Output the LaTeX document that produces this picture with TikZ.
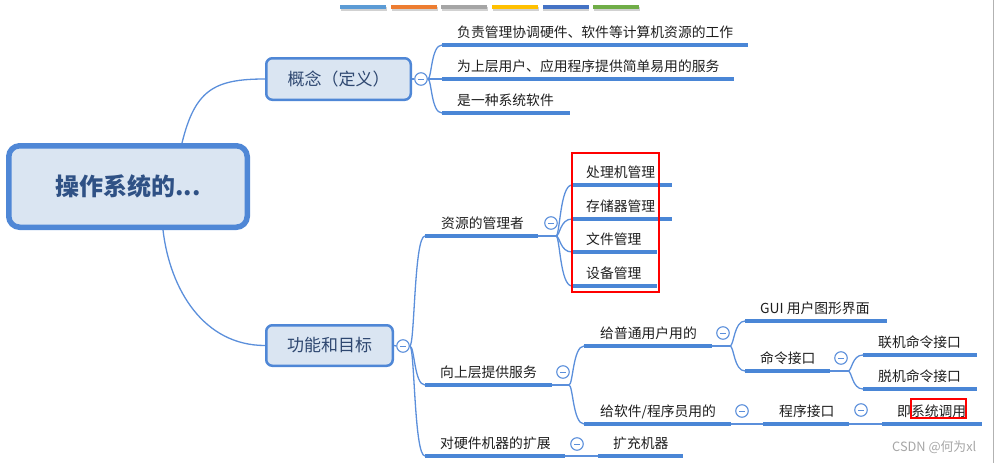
\documentclass[tikz,border=0pt]{standalone}
\usepackage{fontspec}
\setmainfont{Noto Sans CJK SC}
\usetikzlibrary{backgrounds}
\definecolor{lineblue}{HTML}{5B8FDB}
\definecolor{ulblue}{HTML}{4A86D6}
\definecolor{topicfill}{HTML}{DAE5F2}
\definecolor{topicdraw}{HTML}{4F87D6}
\definecolor{topictext}{HTML}{2E4770}
\definecolor{roottext}{HTML}{2F5185}
\definecolor{leaftext}{HTML}{1E1E1E}
\definecolor{wm}{HTML}{A6A6A6}
\definecolor{barA}{HTML}{5B9BD5}
\definecolor{barB}{HTML}{ED7D31}
\definecolor{barC}{HTML}{A5A5A5}
\definecolor{barD}{HTML}{FFC000}
\definecolor{barE}{HTML}{4472C4}
\definecolor{barF}{HTML}{70AD47}
\tikzset{
  conn/.style={draw=lineblue, line width=1.3pt},
  uline/.style={draw=ulblue, line width=3.5pt},
  leaf/.style={anchor=west, inner sep=0pt, text=leaftext, font=\fontsize{13.8}{16}\selectfont, text height=0.88em, text depth=0.12em},
  topic/.style={draw=topicdraw, fill=topicfill, line width=2.5pt, rounded corners=6pt, text=topictext, font=\fontsize{17}{20}\selectfont, inner sep=0pt},
  roottopic/.style={topic, line width=5.5pt, rounded corners=11pt, text=roottext, font=\fontsize{24}{28}\selectfont\bfseries},
  fold/.style={circle, draw=lineblue, fill=white, line width=1.1pt, minimum size=12.5pt, inner sep=0pt,
    path picture={\draw[lineblue, line width=1pt] ([xshift=-2.8pt]path picture bounding box.center) -- ([xshift=2.8pt]path picture bounding box.center);}},
  redbox/.style={draw=red, line width=1.8pt},
  colorbar/.style={inner sep=0pt, minimum width=46pt, minimum height=4pt, anchor=north west},
  barshadow/.style={fill=black!18},
}
\newcommand\leafitem[6]{%
  \coordinate (#1L) at (#2,#4);
  \coordinate (#1R) at (#3,#4);
  \draw[uline] (#1L) -- (#1R);
  \node[leaf] (#1) at (#5,#4-11.5) {#6};}
\begin{document}
\begin{tikzpicture}[x=1pt, y=-1pt]
\useasboundingbox (0,0) rectangle (994,463);
% color bars
\foreach \c [count=\i from 0] in {barA,barB,barC,barD,barE,barF} {
  \fill[barshadow] (340+\i*50.6+1,5+1.5) rectangle ++(46,4);
  \node[colorbar, fill=\c] (bar\i) at (340+\i*50.6,5) {};
}
% right edge
\draw[black!30, line width=1pt] (993.5,0) -- (993.5,463);
% topics
\node[roottopic, minimum width=238.5pt, minimum height=81.5pt] (root) at (128,186.5) {\raisebox{-1.5pt}{操作系统的...}};
\node[topic, minimum width=144.5pt, minimum height=41.5pt] (c) at (338.5,79) {概念（定义）};
\node[topic, minimum width=126.5pt, minimum height=40.5pt] (f) at (329.5,345.5) {功能和目标};
% folds
\node[fold] (cf) at (421,79) {};
\node[fold] (ff) at (403,346) {};
\node[fold] (f1f) at (551,223) {};
\node[fold] (f2f) at (563,372) {};
\node[fold] (f3f) at (577,444) {};
\node[fold] (u1f) at (723,333) {};
\node[fold] (u2f) at (742,411) {};
\node[fold] (g2f) at (841,358) {};
\node[fold] (p1f) at (861,410) {};
% leaves: concept
\leafitem{c1}{442}{748}{45}{457}{负责管理协调硬件、软件等计算机资源的工作}
\leafitem{c2}{442}{734}{79}{457}{为上层用户、应用程序提供简单易用的服务}
\leafitem{c3}{442}{570}{113}{457}{是一种系统软件}
% function
\leafitem{f1}{425}{538}{236}{441}{资源的管理者}
\leafitem{f2}{425}{552}{385}{440}{向上层提供服务}
\leafitem{f3}{425}{565}{456}{440}{对硬件机器的扩展}
\leafitem{r1}{572}{672}{185}{586}{处理机管理}
\leafitem{r2}{572}{672}{219}{586}{存储器管理}
\leafitem{r3}{572}{657}{252}{586}{文件管理}
\leafitem{r4}{572}{657}{286}{586}{设备管理}
\leafitem{u1}{584}{712}{346}{600}{给普通用户用的}
\leafitem{u2}{584}{731}{424}{600}{给软件/程序员用的}
\leafitem{g1}{745}{887}{321}{760}{GUI 用户图形界面}
\leafitem{g2}{745}{830}{371}{760}{命令接口}
\leafitem{m1}{863}{977}{355}{878}{联机命令接口}
\leafitem{m2}{863}{977}{389}{878}{脱机命令接口}
\leafitem{p1}{763}{849}{424}{779}{程序接口}
\leafitem{s1}{882}{982}{424}{897}{即系统调用}
\leafitem{e1}{598}{683}{456}{613}{扩充机器}
% junctions
\coordinate (j1) at (556,236);
\coordinate (j2) at (569,385);
\coordinate (j3) at (730,346);
\coordinate (j4) at (848,371);
\begin{scope}[on background layer]
  \draw[conn] ([xshift=54pt]root.north) .. controls +(13,-53) and +(-51,0) .. (c.west);
  \draw[conn] ([xshift=35pt]root.south) .. controls +(7,60) and +(-61,0) .. (f.west);
  \draw[conn] (c.east) -- (cf.west);
  \draw[conn] (f.east) -- (ff.west);
  \foreach \t in {c1L,c3L} \draw[conn] (cf.east) .. controls +(4,0) and +(-11,0) .. (\t);
  \draw[conn] (cf.east) -- (c2L);
  \foreach \t in {f1L,f2L,f3L} \draw[conn] (ff.east) .. controls +(5,0) and +(-11,0) .. (\t);
  \draw[conn] (f1R) -- (j1);
  \foreach \t in {r1L,r2L,r3L,r4L} \draw[conn] (j1) .. controls +(4,0) and +(-12,0) .. (\t);
  \draw[conn] (f2R) -- (j2);
  \foreach \t in {u1L,u2L} \draw[conn] (j2) .. controls +(4,0) and +(-11,0) .. (\t);
  \draw[conn] (u1R) -- (j3);
  \foreach \t in {g1L,g2L} \draw[conn] (j3) .. controls +(4,0) and +(-11,0) .. (\t);
  \draw[conn] (g2R) -- (j4);
  \foreach \t in {m1L,m2L} \draw[conn] (j4) .. controls +(4,0) and +(-11,0) .. (\t);
  \draw[conn] (u2R) -- (p1L);
  \draw[conn] (p1R) -- (s1L);
  \draw[conn] (f3R) -- (e1L);
\end{scope}
% red boxes
\draw[redbox] (572,153) rectangle (659,292);
\draw[redbox] (911,399) rectangle (966,418);
% watermark
\node[anchor=west, inner sep=0pt, text=wm, font=\fontsize{12.8}{15}\selectfont] (wmk) at (892,447) {CSDN @何为xl};
\end{tikzpicture}
\end{document}
